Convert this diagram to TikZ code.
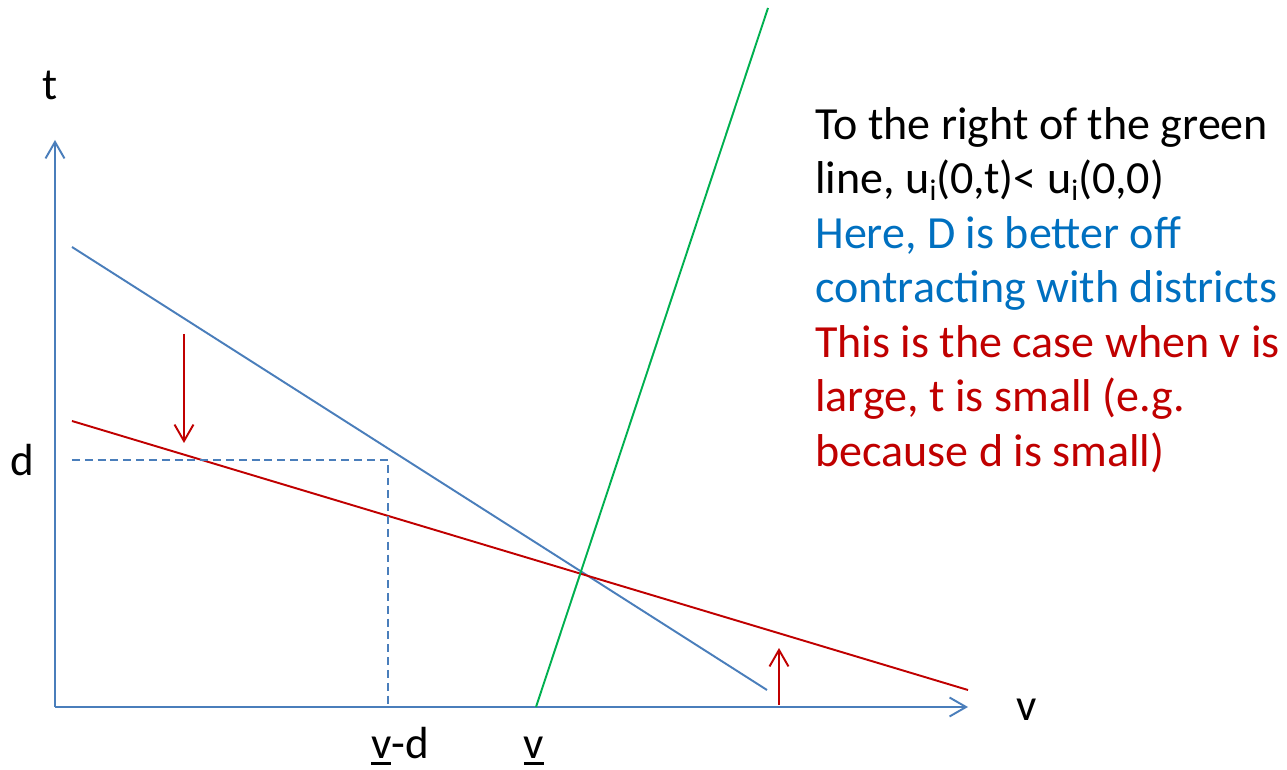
\documentclass[tikz,border=0pt]{standalone}
\usepackage{fontspec}
\setmainfont{Carlito}
\usepackage{tikz}
\usetikzlibrary{arrows.meta}
\definecolor{AxisBlue}{HTML}{4A7EBB}
\definecolor{CutRed}{HTML}{C00000}
\definecolor{CutGreen}{HTML}{00B050}
\definecolor{NoteBlue}{HTML}{0070C0}
\newcommand{\ubarv}{\leavevmode\vtop{\hbox{v}\kern2.2pt\hrule height 2pt}}
\newcommand{\subi}{\raisebox{-0.3ex}{\fontsize{17}{17}\selectfont i}}
\tikzset{
  barb/.style={-{Straight Barb[length=9.4pt,width=10.8pt,line width=1.1pt]}},
  axisline/.style={barb,draw=AxisBlue,line width=1.1pt},
  blueline/.style={draw=AxisBlue,line width=1.1pt},
  redline/.style={draw=CutRed,line width=1.1pt},
  greenline/.style={draw=CutGreen,line width=1.1pt},
  guide/.style={draw=AxisBlue,line width=1.1pt,dash pattern=on 4.5pt off 2.8pt},
  shiftarrow/.style={barb,draw=CutRed,line width=1.1pt},
  lab/.style={font=\fontsize{25.6}{31}\selectfont,text=black,inner sep=0pt}
}

\begin{document}
\begin{tikzpicture}[x=1cm,y=1cm]
  \useasboundingbox (-1.1,-1.24) rectangle (24.64,14.14);

  % axes
  \coordinate (O) at (0,0);
  \coordinate (tTop) at (0,11.34);
  \coordinate (vEnd) at (18.26,0);
  \draw[axisline] (O) -- (tTop);
  \draw[axisline] (O) -- (vEnd);
  \node[lab] (tLab) at (-0.1,12.44) {t};
  \node[lab] (vLab) at (19.44,-0.06) {v};
  \node[lab] (dLab) at (-0.66,4.94) {d};
  \node[lab,anchor=base] (vdLab) at (6.9,-1.02) {\ubarv-d};
  \node[lab,anchor=base] (vbLab) at (9.58,-1.02) {\ubarv};

  % the two lines and the cutoff
  \coordinate (bA) at (0.34,9.2);  \coordinate (bB) at (14.24,0.34);
  \coordinate (rA) at (0.34,5.72); \coordinate (rB) at (18.26,0.34);
  \coordinate (gA) at (9.62,0);    \coordinate (gB) at (14.26,13.98);
  \draw[blueline] (bA) -- (bB);
  \draw[redline] (rA) -- (rB);
  \draw[greenline] (gA) -- (gB);

  % d and v-d guides
  \coordinate (dL) at (0.34,4.94); \coordinate (dC) at (6.66,4.94); \coordinate (dF) at (6.66,0);
  \draw[guide] (dL) -- (dC) -- (dF);

  % shifts of the red line
  \coordinate (s1) at (2.58,7.46); \coordinate (s1e) at (2.58,5.28);
  \coordinate (s2) at (14.48,0.04); \coordinate (s2e) at (14.48,1.18);
  \draw[shiftarrow] (s1) -- (s1e);
  \draw[shiftarrow] (s2) -- (s2e);

  % note
  \node[lab,anchor=north west,align=left,font=\fontsize{26.2}{31}\selectfont] (note) at (15.2,12.0) {%
    To the right of the green\\
    line, u\subi(0,t)< u\subi(0,0)\\
    \textcolor{NoteBlue}{Here, D is better off}\\
    \textcolor{NoteBlue}{contracting with districts}\\
    \textcolor{CutRed}{This is the case when v is}\\
    \textcolor{CutRed}{large, t is small (e.g.}\\
    \textcolor{CutRed}{because d is small)}};
\end{tikzpicture}
\end{document}
